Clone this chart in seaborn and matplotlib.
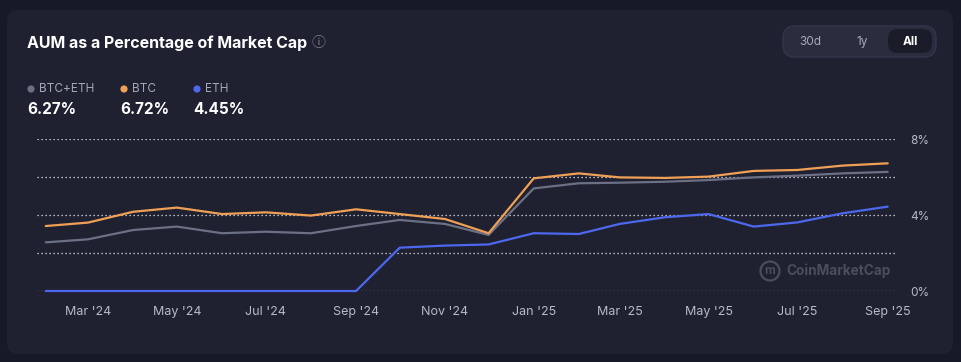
import matplotlib
matplotlib.use("Agg")
import matplotlib.pyplot as plt
import matplotlib.dates as mdates
from matplotlib.patches import FancyBboxPatch, Ellipse
import pandas as pd
import seaborn as sns

sns.set_theme(style="dark")
plt.rcParams['font.family'] = ['Inter', 'DejaVu Sans']

# ---------------- data ----------------
months = pd.date_range("2024-02-01", "2025-09-01", freq="MS")
btc_eth = [2.56, 2.72, 3.21, 3.39, 3.04, 3.12, 3.04, 3.42, 3.74, 3.53, 2.95,
           5.40, 5.67, 5.70, 5.75, 5.84, 5.98, 6.07, 6.19, 6.27]
btc = [3.42, 3.60, 4.17, 4.39, 4.05, 4.14, 3.97, 4.30, 4.05, 3.79, 3.04,
       5.93, 6.19, 5.98, 5.95, 6.02, 6.32, 6.37, 6.60, 6.72]
eth = [0.0, 0.0, 0.0, 0.0, 0.0, 0.0, 0.0, 0.0, 2.28, 2.39, 2.45,
       3.04, 3.00, 3.53, 3.88, 4.05, 3.39, 3.61, 4.09, 4.44]
series_names = ["BTC+ETH", "BTC", "ETH"]
latest_values = ["6.27%", "6.72%", "4.45%"]
y_ticks = [0, 4, 8]
y_tick_labels = ["0%", "4%", "8%"]
x_tick_dates = pd.date_range("2024-03-01", "2025-09-01", freq="2MS")
buttons = ["30d", "1y", "All"]
title = "AUM as a Percentage of Market Cap"

colors = {"BTC+ETH": "#6b7084", "BTC": "#f0a056", "ETH": "#4d68ec"}

df = pd.DataFrame({"date": list(months) * 3,
                   "value": btc_eth + btc + eth,
                   "series": ["BTC+ETH"] * len(months) + ["BTC"] * len(months) + ["ETH"] * len(months)})

W, H = 962, 362
fig = plt.figure(figsize=(W / 100, H / 100), dpi=100)
fig.patch.set_facecolor("#161928")


def dot(cx, cy, r, **kw):
    e = Ellipse((cx / W, 1 - cy / H), 2 * r / W, 2 * r / H,
                transform=fig.transFigure, **kw)
    fig.patches.append(e)
    return e


# card background
card = FancyBboxPatch((7 / W, 8 / H), (946 / W), (344 / H),
                      boxstyle="round,pad=0,rounding_size=0.012",
                      transform=fig.transFigure, facecolor="#1f2130",
                      edgecolor="none", zorder=-5, mutation_aspect=W / H)
fig.patches.append(card)

ax = fig.add_axes([37 / W, 1 - 291 / H, (895 - 37) / W, (291 - 139) / H])
ax.set_facecolor("none")
ax.set_zorder(5)

sns.lineplot(data=df, x="date", y="value", hue="series",
             hue_order=["BTC+ETH", "ETH", "BTC"], palette=colors,
             linewidth=1.6, ax=ax, legend=False)
for ln in ax.lines:
    ln.set_clip_on(False)
    ln.set_zorder(3)

ax.set_ylim(0, 8)
ax.set_xlim(pd.Timestamp("2024-01-26"), pd.Timestamp("2025-09-06"))
for gy in [0, 2, 4, 6, 8]:
    ax.axhline(gy, color="#e8e8ee", linestyle=(0, (1, 2.2)), linewidth=0.9, zorder=1)
ax.grid(False)
for s in ax.spines.values():
    s.set_visible(False)

ax.yaxis.tick_right()
ax.set_yticks(y_ticks)
ax.set_yticklabels(y_tick_labels)
ax.tick_params(axis="y", length=0, pad=11, labelsize=8.5, labelcolor="#b8bac6")
ax.set_xticks(x_tick_dates)
ax.xaxis.set_major_formatter(mdates.DateFormatter("%b '%y"))
ax.tick_params(axis="x", length=0, pad=11, labelsize=9, labelcolor="#b8bac6")
ax.set_xlabel("")
ax.set_ylabel("")

# title
fig.text(27 / W, 1 - 43 / H, title, color="white", fontsize=11.5,
         fontweight="bold", va="center", ha="left")
fig.text(312 / W, 1 - 43 / H, "ⓘ", color="#7a7d8c", fontsize=10,
         va="center", ha="left", family=["Noto Sans CJK SC", "DejaVu Sans"])

# legend
leg_x = [27, 120, 193]
for name, val, lx in zip(series_names, latest_values, leg_x):
    dot(lx + 4, 89, 3.6, facecolor=colors[name], edgecolor="none")
    fig.text((lx + 12) / W, 1 - 89 / H, name, color="#a3a6b4", fontsize=8.5,
             va="center", ha="left")
    fig.text(lx / W, 1 - 110 / H, val, color="white", fontsize=11,
             fontweight="bold", va="center", ha="left")

# buttons
grp = FancyBboxPatch((783 / W, 1 - 57 / H), 153 / W, 31 / H,
                     boxstyle="round,pad=0,rounding_size=0.012",
                     transform=fig.transFigure, facecolor="#2a2d3e",
                     edgecolor="#33364a", linewidth=1, mutation_aspect=W / H)
fig.patches.append(grp)
sel = FancyBboxPatch((888 / W, 1 - 53 / H), 44 / W, 24 / H,
                     boxstyle="round,pad=0,rounding_size=0.01",
                     transform=fig.transFigure, facecolor="#1a1c29",
                     edgecolor="none", mutation_aspect=W / H)
fig.patches.append(sel)
for b, bx in zip(buttons, [810, 862, 910]):
    fig.text(bx / W, 1 - 42 / H, b, color="white" if b == "All" else "#a8abb9",
             fontsize=8.5, fontweight="bold" if b == "All" else "normal",
             va="center", ha="center")

# watermark
dot(770, 271, 9.5, facecolor="none", edgecolor="#4a4d5c", linewidth=1.6)
fig.text(770 / W, 1 - 271 / H, "m", color="#4a4d5c", fontsize=8.5,
         fontweight="bold", va="center", ha="center")
fig.text(786 / W, 1 - 271 / H, "CoinMarketCap", color="#4a4d5c", fontsize=9.8,
         fontweight="bold", va="center", ha="left")

fig.savefig("out.png", dpi=100, facecolor=fig.get_facecolor())
